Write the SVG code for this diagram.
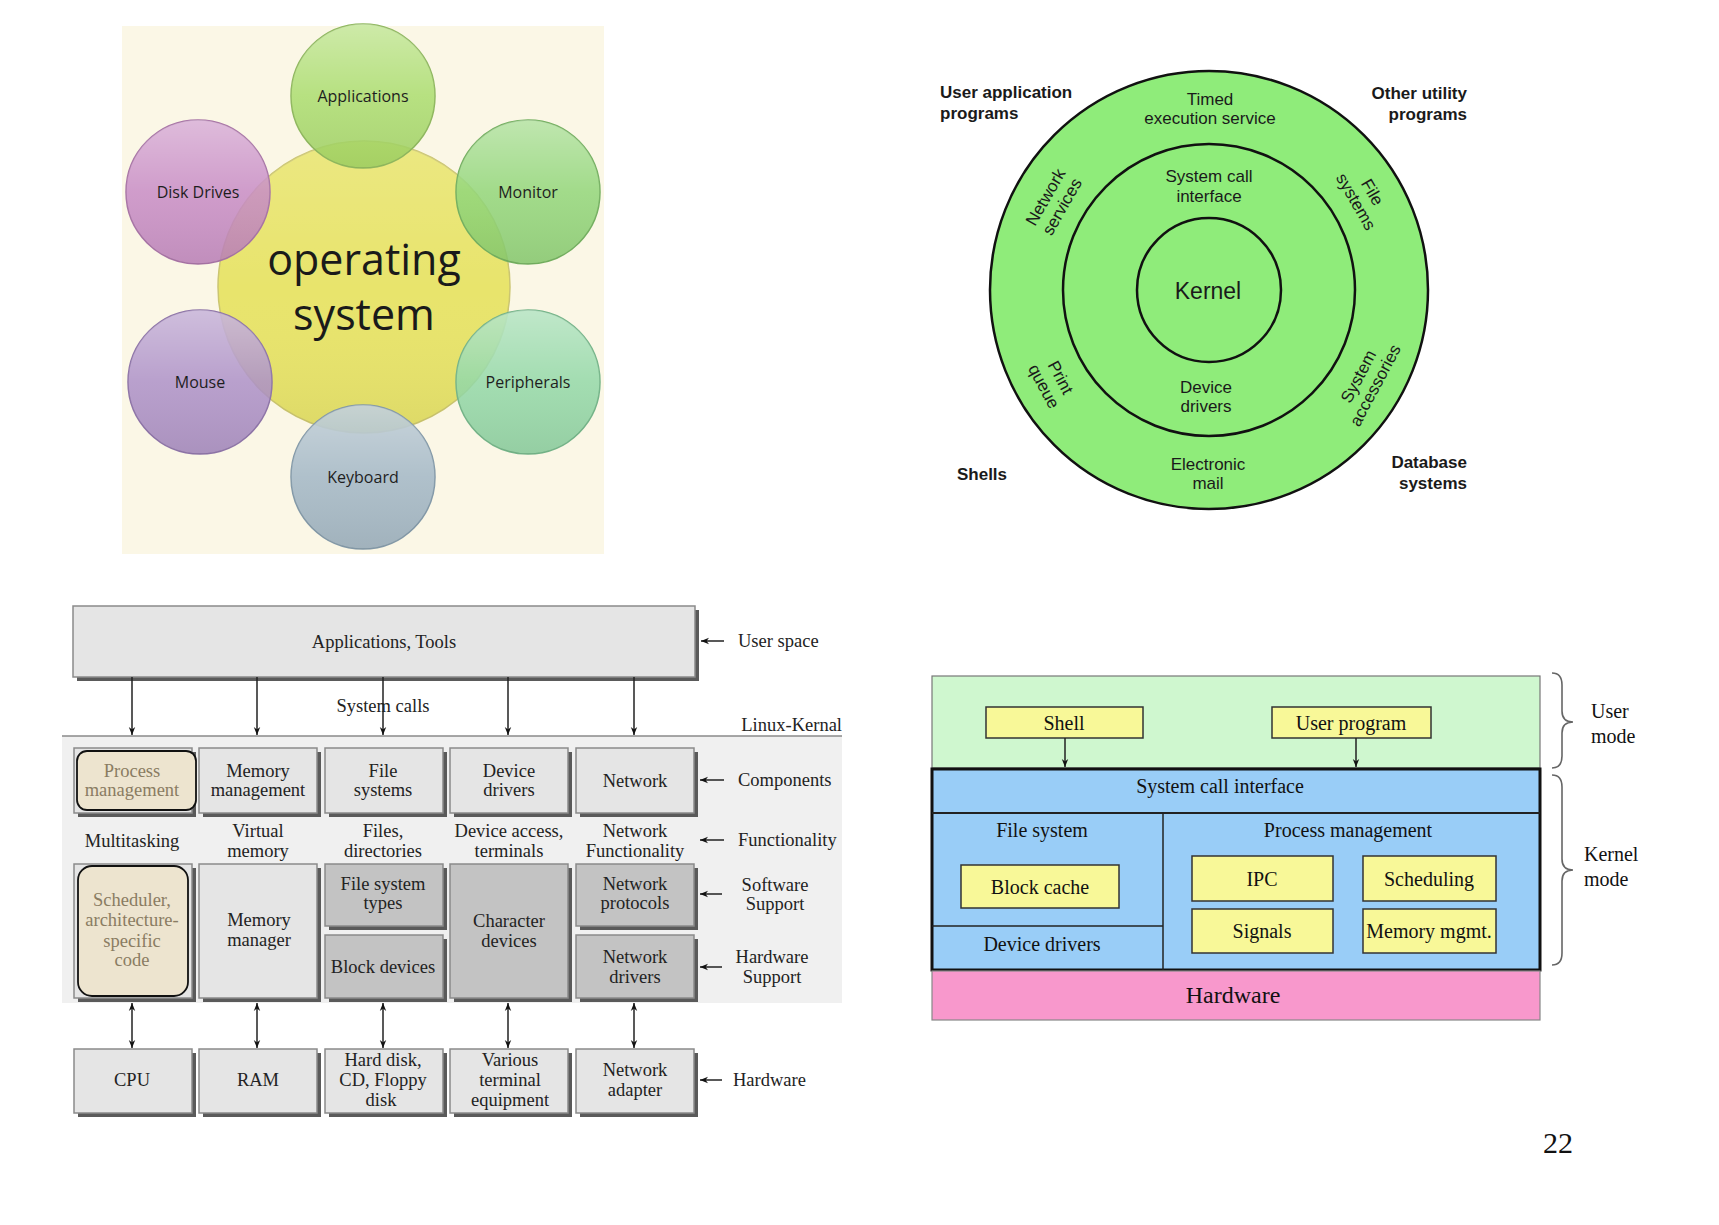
<svg xmlns="http://www.w3.org/2000/svg" width="1719" height="1225" viewBox="0 0 1719 1225">
<style>
.bub{font-family:"Open Sans","Liberation Sans",sans-serif;font-size:16px;fill:#1e1e1e;text-anchor:middle}
.big{font-family:"Open Sans","Liberation Sans",sans-serif;font-size:43px;fill:#1a1a1a;text-anchor:middle}
.ring{fill:#8fec7a;stroke:#111;stroke-width:2.5}
.rt{font-family:"Liberation Sans",Arial,sans-serif;font-size:17px;fill:#1a1a1a;text-anchor:middle}
.rb{font-family:"Liberation Sans",Arial,sans-serif;font-size:17px;font-weight:bold;fill:#1a1a1a}
.lx{font-family:"Liberation Serif","Times New Roman",serif;font-size:18.5px;fill:#222;text-anchor:middle}
.lxl{font-family:"Liberation Serif","Times New Roman",serif;font-size:18.5px;fill:#222}
.tan{fill:#8a7c62}
.lb{fill:#e5e5e5;stroke:#8a8a8a;stroke-width:1.5}
.db{fill:#c3c3c3;stroke:#8a8a8a;stroke-width:1.5}
.sh{fill:#5a5a5a}
.rnd{fill:#ede4cf;stroke:#111;stroke-width:1.8}
.ar{stroke:#222;stroke-width:1.5;fill:none}
.kt{font-family:"Liberation Serif","Times New Roman",serif;font-size:20px;fill:#111;text-anchor:middle}
.ktl{font-family:"Liberation Serif","Times New Roman",serif;font-size:20px;fill:#111;text-anchor:start}
.ybox{fill:#f8f898;stroke:#333;stroke-width:1.5}
.brace{fill:none;stroke:#666;stroke-width:1.6}
</style>
<defs>
<marker id="ah" viewBox="0 0 10 10" refX="10" refY="5" markerWidth="8" markerHeight="8" orient="auto-start-reverse" markerUnits="userSpaceOnUse">
<path d="M0,1 L10,5 L0,9 L3,5 Z" fill="#111"/>
</marker>
<linearGradient id="gloss" x1="0" y1="0" x2="0" y2="1">
<stop offset="0" stop-color="#fff" stop-opacity="0.35"/>
<stop offset="0.5" stop-color="#fff" stop-opacity="0.05"/>
<stop offset="1" stop-color="#000" stop-opacity="0.06"/>
</linearGradient>
<linearGradient id="gloss2" x1="0" y1="0" x2="0" y2="1">
<stop offset="0" stop-color="#fff" stop-opacity="0.15"/>
<stop offset="0.5" stop-color="#fff" stop-opacity="0"/>
<stop offset="1" stop-color="#000" stop-opacity="0.05"/>
</linearGradient>
</defs>
<rect width="1719" height="1225" fill="#fff"/>

<!-- Top-left: operating system bubbles -->
<g id="os-panel">
<rect x="122" y="26" width="482" height="528" fill="#fbf7e6"/>
</g>
<g id="os-center">
<circle cx="364" cy="287" r="146" fill="#e8e46c" stroke="#cbc570" stroke-width="1.5"/>
<circle cx="364" cy="287" r="146" fill="url(#gloss2)"/>
<text class="big" x="364" y="275">operating</text>
<text class="big" x="364" y="330">system</text>
</g>
<g id="bub-applications">
<circle cx="363" cy="96" r="72" fill="#a6da66" fill-opacity="0.85" stroke="#8fb85e" stroke-width="1.5"/>
<circle cx="363" cy="96" r="72" fill="url(#gloss)"/>
<text class="bub" x="363" y="102">Applications</text>
</g>
<g id="bub-disk">
<circle cx="198" cy="192" r="72" fill="#c486c2" fill-opacity="0.85" stroke="#a874a6" stroke-width="1.5"/>
<circle cx="198" cy="192" r="72" fill="url(#gloss)"/>
<text class="bub" x="198" y="198">Disk Drives</text>
</g>
<g id="bub-monitor">
<circle cx="528" cy="192" r="72" fill="#8cd472" fill-opacity="0.85" stroke="#74b060" stroke-width="1.5"/>
<circle cx="528" cy="192" r="72" fill="url(#gloss)"/>
<text class="bub" x="528" y="198">Monitor</text>
</g>
<g id="bub-mouse">
<circle cx="200" cy="382" r="72" fill="#a88bc4" fill-opacity="0.85" stroke="#8e74a8" stroke-width="1.5"/>
<circle cx="200" cy="382" r="72" fill="url(#gloss)"/>
<text class="bub" x="200" y="388">Mouse</text>
</g>
<g id="bub-peripherals">
<circle cx="528" cy="382" r="72" fill="#8dd6a2" fill-opacity="0.85" stroke="#74b488" stroke-width="1.5"/>
<circle cx="528" cy="382" r="72" fill="url(#gloss)"/>
<text class="bub" x="528" y="388">Peripherals</text>
</g>
<g id="bub-keyboard">
<circle cx="363" cy="477" r="72" fill="#9fb5c4" fill-opacity="0.88" stroke="#8399a8" stroke-width="1.5"/>
<circle cx="363" cy="477" r="72" fill="url(#gloss)"/>
<text class="bub" x="363" y="483">Keyboard</text>
</g>

<!-- Top-right: kernel rings -->
<g id="ring-outer">
<circle class="ring" cx="1209" cy="290" r="219"/>
<text class="rt" x="1210" y="105">Timed</text>
<text class="rt" x="1210" y="124">execution service</text>
<text class="rt" x="1208" y="470">Electronic</text>
<text class="rt" x="1208" y="489">mail</text>
<g transform="translate(1054,202) rotate(-60)"><text class="rt" x="0" y="-4">Network</text><text class="rt" x="0" y="15">services</text></g>
<g transform="translate(1364,197) rotate(60)"><text class="rt" x="0" y="-4">File</text><text class="rt" x="0" y="15">systems</text></g>
<g transform="translate(1052,382) rotate(62)"><text class="rt" x="0" y="-4">Print</text><text class="rt" x="0" y="15">queue</text></g>
<g transform="translate(1367,381) rotate(-62)"><text class="rt" x="0" y="-4">System</text><text class="rt" x="0" y="15">accessories</text></g>
</g>
<g id="ring-middle">
<circle class="ring" cx="1209" cy="290" r="146"/>
<text class="rt" x="1209" y="182">System call</text>
<text class="rt" x="1209" y="202">interface</text>
<text class="rt" x="1206" y="393">Device</text>
<text class="rt" x="1206" y="412">drivers</text>
</g>
<g id="ring-kernel">
<circle class="ring" cx="1209" cy="290" r="72"/>
<text class="rt" x="1208" y="299" style="font-size:23px">Kernel</text>
</g>
<g id="ring-labels">
<text class="rb" x="940" y="98">User application</text>
<text class="rb" x="940" y="119">programs</text>
<text class="rb" x="1467" y="99" text-anchor="end">Other utility</text>
<text class="rb" x="1467" y="120" text-anchor="end">programs</text>
<text class="rb" x="982" y="480" text-anchor="middle">Shells</text>
<text class="rb" x="1467" y="468" text-anchor="end">Database</text>
<text class="rb" x="1467" y="489" text-anchor="end">systems</text>
</g>

<!-- Bottom-left: Linux kernel -->
<g id="lk-panel">
<rect x="62" y="736" width="780" height="267" fill="#f0f0f0"/>
<line x1="62" y1="736" x2="842" y2="736" stroke="#8a8a8a" stroke-width="1.5"/>
<text class="lxl" x="842" y="731" text-anchor="end">Linux-Kernal</text>
</g>
<g id="lk-apps">
<rect class="sh" x="77" y="610" width="622" height="71"/>
<rect class="lb" x="73" y="606" width="622" height="71"/>
<text class="lx" x="384" y="648">Applications, Tools</text>
</g>
<g id="lk-proc">
<rect class="sh" x="78" y="752" width="118" height="65"/>
<rect class="lb" x="74" y="748" width="118" height="65"/>
<rect class="rnd" x="77" y="751" width="119" height="59" rx="10"/>
<text class="lx tan" x="132" y="777">Process</text>
<text class="lx tan" x="132" y="796">management</text>
</g>
<g id="lk-mem">
<rect class="sh" x="203" y="752" width="118" height="65"/>
<rect class="lb" x="199" y="748" width="118" height="65"/>
<text class="lx" x="258" y="777">Memory</text>
<text class="lx" x="258" y="796">management</text>
</g>
<g id="lk-fs">
<rect class="sh" x="329" y="752" width="118" height="65"/>
<rect class="lb" x="325" y="748" width="118" height="65"/>
<text class="lx" x="383" y="777">File</text>
<text class="lx" x="383" y="796">systems</text>
</g>
<g id="lk-dev">
<rect class="sh" x="454" y="752" width="118" height="65"/>
<rect class="lb" x="450" y="748" width="118" height="65"/>
<text class="lx" x="509" y="777">Device</text>
<text class="lx" x="509" y="796">drivers</text>
</g>
<g id="lk-net">
<rect class="sh" x="580" y="752" width="118" height="65"/>
<rect class="lb" x="576" y="748" width="118" height="65"/>
<text class="lx" x="635" y="787">Network</text>
</g>
<g id="lk-func">
<text class="lx" x="132" y="847">Multitasking</text>
<text class="lx" x="258" y="837">Virtual</text>
<text class="lx" x="258" y="857">memory</text>
<text class="lx" x="383" y="837">Files,</text>
<text class="lx" x="383" y="857">directories</text>
<text class="lx" x="509" y="837">Device access,</text>
<text class="lx" x="509" y="857">terminals</text>
<text class="lx" x="635" y="837">Network</text>
<text class="lx" x="635" y="857">Functionality</text>
</g>
<g id="lk-sched">
<rect class="sh" x="78" y="868" width="118" height="134"/>
<rect class="lb" x="74" y="864" width="118" height="134"/>
<rect class="rnd" x="78" y="866" width="110" height="130" rx="14"/>
<text class="lx tan" x="132" y="906">Scheduler,</text>
<text class="lx tan" x="132" y="926">architecture-</text>
<text class="lx tan" x="132" y="947">specific</text>
<text class="lx tan" x="132" y="966">code</text>
</g>
<g id="lk-memmgr">
<rect class="sh" x="203" y="868" width="118" height="134"/>
<rect class="lb" x="199" y="864" width="118" height="134"/>
<text class="lx" x="259" y="926">Memory</text>
<text class="lx" x="259" y="946">manager</text>
</g>
<g id="lk-fstypes">
<rect class="sh" x="329" y="868" width="118" height="62"/>
<rect class="db" x="325" y="864" width="118" height="62"/>
<text class="lx" x="383" y="890">File system</text>
<text class="lx" x="383" y="909">types</text>
</g>
<g id="lk-block">
<rect class="sh" x="329" y="939" width="118" height="63"/>
<rect class="db" x="325" y="935" width="118" height="63"/>
<text class="lx" x="383" y="973">Block devices</text>
</g>
<g id="lk-char">
<rect class="sh" x="454" y="868" width="118" height="134"/>
<rect class="db" x="450" y="864" width="118" height="134"/>
<text class="lx" x="509" y="927">Character</text>
<text class="lx" x="509" y="947">devices</text>
</g>
<g id="lk-netproto">
<rect class="sh" x="580" y="868" width="118" height="62"/>
<rect class="db" x="576" y="864" width="118" height="62"/>
<text class="lx" x="635" y="890">Network</text>
<text class="lx" x="635" y="909">protocols</text>
</g>
<g id="lk-netdrv">
<rect class="sh" x="580" y="939" width="118" height="63"/>
<rect class="db" x="576" y="935" width="118" height="63"/>
<text class="lx" x="635" y="963">Network</text>
<text class="lx" x="635" y="983">drivers</text>
</g>
<g id="lk-cpu">
<rect class="sh" x="78" y="1053" width="118" height="64"/>
<rect class="lb" x="74" y="1049" width="118" height="64"/>
<text class="lx" x="132" y="1086">CPU</text>
</g>
<g id="lk-ram">
<rect class="sh" x="203" y="1053" width="118" height="64"/>
<rect class="lb" x="199" y="1049" width="118" height="64"/>
<text class="lx" x="258" y="1086">RAM</text>
</g>
<g id="lk-disk">
<rect class="sh" x="329" y="1053" width="118" height="64"/>
<rect class="lb" x="325" y="1049" width="118" height="64"/>
<text class="lx" x="383" y="1066">Hard disk,</text>
<text class="lx" x="383" y="1086">CD, Floppy</text>
<text class="lx" x="381" y="1106">disk</text>
</g>
<g id="lk-term">
<rect class="sh" x="454" y="1053" width="118" height="64"/>
<rect class="lb" x="450" y="1049" width="118" height="64"/>
<text class="lx" x="510" y="1066">Various</text>
<text class="lx" x="510" y="1086">terminal</text>
<text class="lx" x="510" y="1106">equipment</text>
</g>
<g id="lk-adapter">
<rect class="sh" x="580" y="1053" width="118" height="64"/>
<rect class="lb" x="576" y="1049" width="118" height="64"/>
<text class="lx" x="635" y="1076">Network</text>
<text class="lx" x="635" y="1096">adapter</text>
</g>
<g id="lk-side-labels">
<text class="lxl" x="738" y="647">User space</text>
<text class="lxl" x="738" y="786">Components</text>
<text class="lxl" x="738" y="846">Functionality</text>
<text class="lx" x="775" y="891">Software</text>
<text class="lx" x="775" y="910">Support</text>
<text class="lx" x="772" y="963">Hardware</text>
<text class="lx" x="772" y="983">Support</text>
<text class="lxl" x="733" y="1086">Hardware</text>
<text class="lx" x="383" y="712">System calls</text>
</g>

<!-- Bottom-right: user/kernel mode -->
<g id="km-user">
<rect x="932" y="676" width="608" height="92" fill="#cff7cf" stroke="#777" stroke-width="1.2"/>
</g>
<g id="km-shell">
<rect class="ybox" x="986" y="707" width="157" height="31"/>
<text class="kt" x="1064" y="730">Shell</text>
</g>
<g id="km-userprog">
<rect class="ybox" x="1272" y="707" width="159" height="31"/>
<text class="kt" x="1351" y="730">User program</text>
</g>
<g id="km-kernel">
<rect x="932" y="769" width="608" height="201" fill="#99cdf7" stroke="#111" stroke-width="3"/>
<line x1="932" y1="813" x2="1540" y2="813" stroke="#222" stroke-width="2"/>
<line x1="1163" y1="813" x2="1163" y2="970" stroke="#222" stroke-width="1.5"/>
<line x1="932" y1="926" x2="1163" y2="926" stroke="#222" stroke-width="1.5"/>
<text class="kt" x="1220" y="793">System call interface</text>
<text class="kt" x="1042" y="837">File system</text>
<text class="kt" x="1348" y="837">Process management</text>
<text class="kt" x="1042" y="951">Device drivers</text>
</g>
<g id="km-blockcache">
<rect class="ybox" x="961" y="865" width="158" height="43"/>
<text class="kt" x="1040" y="894">Block cache</text>
</g>
<g id="km-ipc">
<rect class="ybox" x="1192" y="856" width="141" height="45"/>
<text class="kt" x="1262" y="886">IPC</text>
</g>
<g id="km-sched">
<rect class="ybox" x="1363" y="856" width="133" height="45"/>
<text class="kt" x="1429" y="886">Scheduling</text>
</g>
<g id="km-signals">
<rect class="ybox" x="1192" y="909" width="141" height="44"/>
<text class="kt" x="1262" y="938">Signals</text>
</g>
<g id="km-memmgmt">
<rect class="ybox" x="1363" y="909" width="133" height="44"/>
<text class="kt" x="1429" y="938">Memory mgmt.</text>
</g>
<g id="km-hardware">
<rect x="932" y="971" width="608" height="49" fill="#f898cc" stroke="#888" stroke-width="1.2"/>
<text class="kt" x="1233" y="1003" style="font-size:24px">Hardware</text>
</g>
<g id="km-modes">
<path class="brace" d="M1552,673 Q1562,673 1562,685 L1562,711 Q1562,722 1573,722 Q1562,722 1562,733 L1562,756 Q1562,768 1552,768"/>
<path class="brace" d="M1552,775 Q1562,775 1562,787 L1562,859 Q1562,870 1573,870 Q1562,870 1562,881 L1562,953 Q1562,965 1552,965"/>
<text class="ktl" x="1591" y="718">User</text>
<text class="ktl" x="1591" y="743">mode</text>
<text class="ktl" x="1584" y="861">Kernel</text>
<text class="ktl" x="1584" y="886">mode</text>
</g>

<!-- Connectors -->
<g id="connectors">
<line class="ar" x1="132" y1="677" x2="132" y2="735" marker-end="url(#ah)"/>
<line class="ar" x1="257" y1="677" x2="257" y2="735" marker-end="url(#ah)"/>
<line class="ar" x1="383" y1="677" x2="383" y2="735" marker-end="url(#ah)"/>
<line class="ar" x1="508" y1="677" x2="508" y2="735" marker-end="url(#ah)"/>
<line class="ar" x1="634" y1="677" x2="634" y2="735" marker-end="url(#ah)"/>
<line class="ar" x1="132" y1="1003" x2="132" y2="1048" marker-start="url(#ah)" marker-end="url(#ah)"/>
<line class="ar" x1="257" y1="1003" x2="257" y2="1048" marker-start="url(#ah)" marker-end="url(#ah)"/>
<line class="ar" x1="383" y1="1003" x2="383" y2="1048" marker-start="url(#ah)" marker-end="url(#ah)"/>
<line class="ar" x1="508" y1="1003" x2="508" y2="1048" marker-start="url(#ah)" marker-end="url(#ah)"/>
<line class="ar" x1="634" y1="1003" x2="634" y2="1048" marker-start="url(#ah)" marker-end="url(#ah)"/>
<line class="ar" x1="724" y1="641" x2="701" y2="641" marker-end="url(#ah)"/>
<line class="ar" x1="724" y1="780" x2="700" y2="780" marker-end="url(#ah)"/>
<line class="ar" x1="724" y1="840" x2="700" y2="840" marker-end="url(#ah)"/>
<line class="ar" x1="722" y1="894" x2="700" y2="894" marker-end="url(#ah)"/>
<line class="ar" x1="722" y1="967" x2="700" y2="967" marker-end="url(#ah)"/>
<line class="ar" x1="722" y1="1080" x2="700" y2="1080" marker-end="url(#ah)"/>
<line class="ar" x1="1065" y1="738" x2="1065" y2="767" marker-end="url(#ah)"/>
<line class="ar" x1="1356" y1="738" x2="1356" y2="767" marker-end="url(#ah)"/>
</g>

<text x="1558" y="1153" font-family="Liberation Serif, Times New Roman, serif" font-size="30" fill="#111" text-anchor="middle">22</text>
</svg>
